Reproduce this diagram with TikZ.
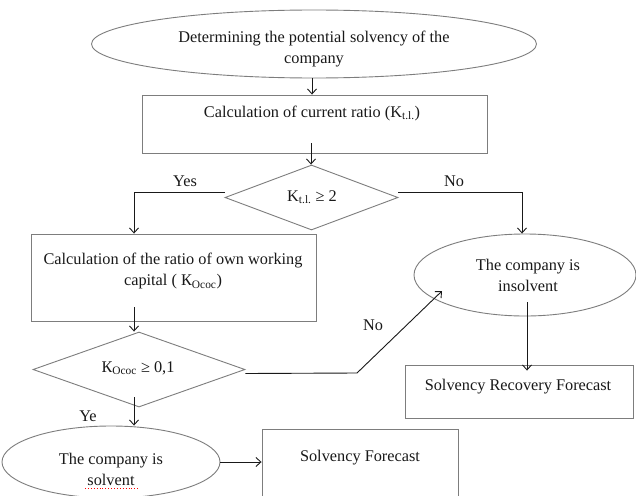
\documentclass[tikz,border=0pt]{standalone}
\usepackage{fontspec}
\setmainfont{Liberation Serif}
\usetikzlibrary{shapes.geometric,arrows.meta,calc}
\definecolor{shapegray}{RGB}{125,125,125}
\definecolor{linkblack}{RGB}{25,25,25}
\begin{document}
\begin{tikzpicture}[x=1pt,y=-1pt,
  txt/.style={font=\fontsize{16.3}{21}\selectfont, align=center, inner sep=0pt, text=linkblack},
  box/.style={draw=shapegray, line width=0.9pt, rectangle, inner sep=0pt},
  ell/.style={draw=shapegray, line width=0.9pt, ellipse, inner sep=0pt},
  dia/.style={draw=shapegray, line width=0.9pt, diamond, aspect=2.6, inner sep=0pt},
  arr/.style={draw=linkblack, line width=0.9pt, -{Straight Barb[length=5pt,width=9pt]}},
  lnk/.style={draw=linkblack, line width=0.9pt}]
\useasboundingbox (0,0) rectangle (636,495);
\clip (0,0) rectangle (636,495);
\fill[white] (0,0) rectangle (636,495);

% shapes
\node[ell, minimum width=445pt, minimum height=68pt] (top) at (314,44) {};
\node[txt] (toptext) at (314,49) {Determining the potential solvency of the\\company};

\node[box, minimum width=345pt, minimum height=58pt] (b1) at (314.5,124) {};
\node[txt] (b1t) at (312,113) {Calculation of current ratio (K\textsubscript{t.l.})};

\node[dia, minimum width=173pt, minimum height=65pt] (d1) at (311.5,197.5) {};
\node[txt] (d1t) at (312,197) {K\textsubscript{t.l.} ≥ 2};

\node[box, minimum width=285pt, minimum height=87pt] (b2) at (173.5,277.5) {};
\node[txt] (b2t) at (173,271) {Calculation of the ratio of own working\\capital ( К\textsubscript{Ococ})};

\node[dia, minimum width=212pt, minimum height=75pt] (d2) at (139,369.5) {};
\node[txt] (d2t) at (138,368) {К\textsubscript{Ococ} ≥ 0,1};

\node[ell, minimum width=222pt, minimum height=82pt] (ins) at (525,275) {};
\node[txt] (inst) at (528,275) {The company is\\insolvent};

\node[box, minimum width=228pt, minimum height=53pt] (srf) at (519,391.5) {};
\node[txt] (srft) at (518,387) {Solvency Recovery Forecast};

\node[ell, minimum width=218pt, minimum height=72pt] (sol) at (111,462) {};
\node[txt] (solt) at (111,469) {The company is\\solvent};
\draw[red, dotted, line width=0.9pt] (85,488) -- (138,488);

\node[box, minimum width=196pt, minimum height=72pt] (sf) at (360,465) {};
\node[txt] (sft) at (360,458) {Solvency Forecast};

% helper coordinates
\coordinate (yescol) at (134,0);
\coordinate (nocol) at (522,0);
\coordinate (bend) at (357,373);
\coordinate (insin) at (442,291);

% connectors
\draw[arr] (top.south -| 312,0) -- (312,0 |- b1.north);
\draw[arr] ([yshift=10pt]b1.south -| 311,0) -- (311,0 |- d1.north);
\draw[arr] ([yshift=5pt]d1.west) -| (yescol |- b2.north);
\draw[arr] ([yshift=5pt]d1.east) -| (nocol |- ins.north);
\draw[arr] ([yshift=14pt]b2.south -| yescol) -- (yescol |- d2.north);
\draw[arr] ([yshift=10pt]d2.south -| yescol) -- (yescol |- sol.north);
\draw[lnk] ([yshift=-4pt]d2.east) -- (bend);
\draw[arr] (bend) -- (insin);
\draw[arr] ([yshift=14pt]ins.south -| 527,0) -- ([yshift=-6pt]527,0 |- srf.north);
\draw[arr] (sol.east) -- (sol.east -| sf.west);

% labels
\node[txt] (lyes) at (185,181) {Yes};
\node[txt] (lno1) at (454,181) {No};
\node[txt] (lno2) at (373,325) {No};
\node[txt] (lye) at (88,416) {Ye};
\end{tikzpicture}
\end{document}
